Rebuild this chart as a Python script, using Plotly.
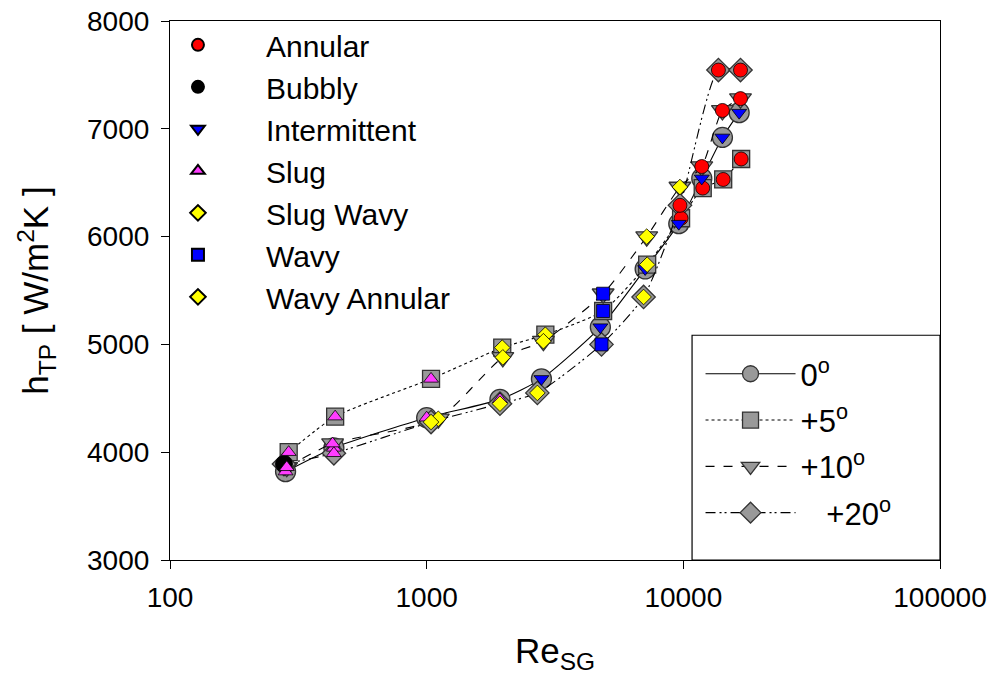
import plotly.graph_objects as go

# ---- data -------------------------------------------------------------
angles = ["0<sup>o</sup>", "+5<sup>o</sup>", "+10<sup>o</sup>", "   +20<sup>o</sup>"]

re_0 = [282, 435, 1000, 1930, 2800, 4750, 7100, 9600, 11800, 14200, 16500]
h_0 = [3820, 4040, 4320, 4490, 4680, 5160, 5700, 6120, 6540, 6920, 7150]
fp_0 = ["Slug", "Slug", "Slug", "Slug", "Intermittent", "Intermittent", "Intermittent",
        "Intermittent", "Intermittent", "Intermittent", "Intermittent"]

re_5 = [290, 440, 1040, 1970, 2900, 4870, 7230, 9800, 11900, 14300, 16800]
h_5 = [4000, 4330, 4680, 4970, 5090, 5310, 5740, 6170, 6450, 6530, 6720]
fp_5 = ["Slug", "Slug", "Slug", "Slug Wavy", "Slug Wavy", "Wavy", "Wavy Annular",
        "Annular", "Annular", "Annular", "Annular"]

re_10 = [285, 430, 1110, 1980, 2850, 4870, 7200, 9700, 11800, 14200, 16700]
h_10 = [3860, 4080, 4310, 4880, 5030, 5470, 6000, 6460, 6650, 7170, 7280]
fp_10 = ["Slug", "Slug", "Slug Wavy", "Slug Wavy", "Slug Wavy", "Wavy", "Wavy Annular",
         "Wavy Annular", "Annular", "Annular", "Annular"]

re_20 = [278, 435, 1040, 1930, 2700, 4800, 7000, 9700, 13700, 16700]
h_20 = [3890, 3990, 4280, 4450, 4550, 5000, 5440, 6290, 7545, 7545]
fp_20 = ["Bubbly", "Slug", "Slug Wavy", "Slug Wavy", "Slug Wavy", "Wavy", "Wavy Annular",
         "Annular", "Annular", "Annular"]

patterns = ["Annular", "Bubbly", "Intermittent", "Slug", "Slug Wavy", "Wavy", "Wavy Annular"]

x_tick_vals = [100, 1000, 10000, 100000]
x_tick_text = ["100", "1000", "10000", "100000"]

# ---- styles -------------------------------------------------------------
series = [
    (re_0, h_0, fp_0, "circle", "solid", 20),
    (re_5, h_5, fp_5, "square", "dot", 17),
    (re_10, h_10, fp_10, "triangle-down", "dash", 19),
    (re_20, h_20, fp_20, "diamond", "10px,4px,2px,3px,2px,4px", 18),
]
pat_style = {
    "Annular": ("circle", "#FF0000", 14),
    "Bubbly": ("circle", "#000000", 17),
    "Intermittent": ("triangle-down", "#0000FF", 13),
    "Slug": ("triangle-up", "#FF3CFF", 13),
    "Slug Wavy": ("diamond", "#FFFF00", 12),
    "Wavy": ("square", "#0000FF", 13),
    "Wavy Annular": ("diamond", "#FFFF00", 12),
}

FONT = "Liberation Sans, Arial, sans-serif"
fig = go.Figure()

for i, (name, (xs, ys, fps, sym, dash, sz)) in enumerate(zip(angles, series)):
    fig.add_trace(go.Scatter(
        x=xs, y=ys, name=name, mode="lines+markers", legend="legend2",
        legendgroup="ang%d" % i,
        line=dict(color="black", width=1.1, dash=dash, shape="spline", smoothing=0.6),
        marker=dict(symbol=sym, size=sz, color="#999999",
                    line=dict(color="#333333", width=1.3)),
    ))

for p in patterns:
    xs, ys = [], []
    for (sx, sy, sf, *_rest) in series:
        for a, b, c in zip(sx, sy, sf):
            if c == p:
                xs.append(a)
                ys.append(b)
    sym, col, sz = pat_style[p]
    fig.add_trace(go.Scatter(
        x=xs, y=ys, name=p, mode="markers", legend="legend",
        marker=dict(symbol=sym, size=sz, color=col, line=dict(color="black", width=0.8)),
    ))

fig.add_shape(type="rect", xref="paper", yref="paper", x0=0.678, x1=1.0, y0=0.0, y1=0.417,
              line=dict(color="black", width=1.2), fillcolor="white", layer="below")

fig.update_layout(
    width=995, height=682,
    margin=dict(l=170, r=55, t=21, b=122, autoexpand=False),
    plot_bgcolor="white", paper_bgcolor="white",
    font=dict(family=FONT, size=28, color="black"),
    xaxis=dict(type="log", range=[2, 5], tickmode="array", tickvals=x_tick_vals,
               ticktext=x_tick_text, showline=True, linecolor="black", linewidth=1.2,
               mirror=True, ticks="outside", ticklen=8, tickcolor="black",
               showgrid=False, zeroline=False, ticklabelstandoff=4, automargin=False,
               title=dict(text="Re<sub>SG</sub>", font=dict(size=35), standoff=26)),
    yaxis=dict(range=[3000, 8000], dtick=1000, showline=True, linecolor="black",
               linewidth=1.2, mirror=True, ticks="outside", ticklen=8, tickcolor="black",
               showgrid=False, zeroline=False, ticklabelstandoff=6, automargin=False,
               title=dict(text="h<sub>TP</sub> [ W/m<sup>2</sup>K ]", font=dict(size=35),
                          standoff=27)),
    legend=dict(x=-0.052, y=1.004, xanchor="left", yanchor="top", bgcolor="rgba(0,0,0,0)",
                font=dict(size=30), itemsizing="constant", itemwidth=126, tracegroupgap=0),
    legend2=dict(x=0.689, y=0.395, xanchor="left", yanchor="top", bgcolor="rgba(0,0,0,0)",
                 font=dict(size=31), itemwidth=90, borderwidth=0, tracegroupgap=3),
    showlegend=True,
)

fig.write_html("out.html")
